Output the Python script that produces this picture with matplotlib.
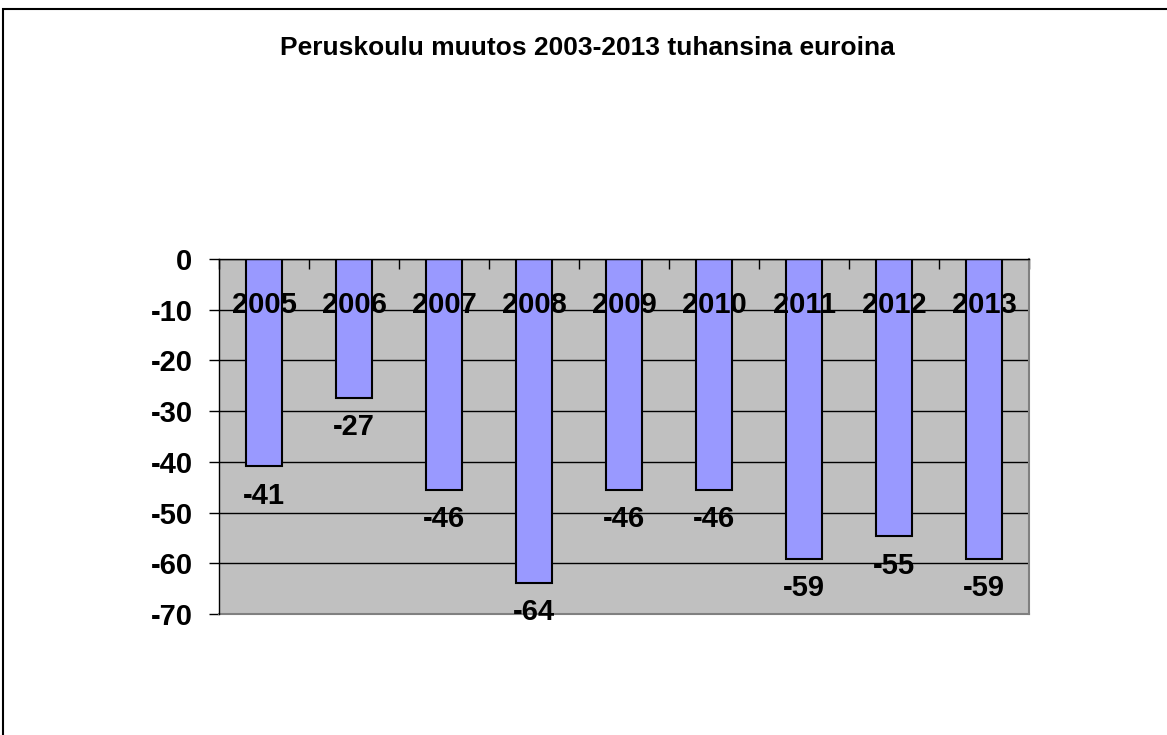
import matplotlib
matplotlib.use("Agg")
import matplotlib.pyplot as plt
from matplotlib.patches import Rectangle

plt.rcParams['font.family'] = ['Liberation Sans', 'DejaVu Sans']
plt.rcParams['font.weight'] = 'bold'

years = ['2005', '2006', '2007', '2008', '2009', '2010', '2011', '2012', '2013']
values = [-40.9, -27.4, -45.6, -63.8, -45.6, -45.6, -59.2, -54.7, -59.2]
yticks = [0, -10, -20, -30, -40, -50, -60, -70]
title = 'Peruskoulu muutos 2003-2013 tuhansina euroina'

fig = plt.figure(figsize=(11.67, 7.35), dpi=100)
fig.patch.set_facecolor('white')

# outer frame (only top and left edges show in the original)
fig.patches.append(Rectangle((3 / 1167, -0.1), 1.2, 1 - 9 / 735 + 0.1,
                             transform=fig.transFigure, fill=False,
                             edgecolor='black', linewidth=1.5))

ax = fig.add_axes([219 / 1167, 1 - 614 / 735, (1029 - 219) / 1167, (614 - 259) / 735])
ax.set_facecolor('#C0C0C0')

x = list(range(len(years)))
ax.bar(x, values, width=0.41, color='#9999FF', edgecolor='black', linewidth=1.5, zorder=3)

ax.set_xlim(-0.5, len(years) - 0.5)
ax.set_ylim(-70, 0)
ax.set_yticks(yticks)
ax.set_yticklabels([str(t) for t in yticks], fontsize=21, fontweight='bold')
ax.tick_params(axis='y', direction='out', length=7, width=1, pad=12, color='black')

ax.xaxis.tick_top()
ax.set_xticks([i - 0.5 for i in range(len(years) + 1)])
ax.set_xticklabels([])
ax.tick_params(axis='x', direction='in', length=7, width=1, color='black')

ax.grid(axis='y', color='black', linewidth=1, zorder=1)
ax.set_axisbelow(True)

for side in ['top', 'left']:
    ax.spines[side].set_color('black')
    ax.spines[side].set_linewidth(1)
    ax.spines[side].set_zorder(4)
for side in ['right', 'bottom']:
    ax.spines[side].set_color('#808080')
    ax.spines[side].set_linewidth(1.5)

for i, (yr, v) in enumerate(zip(years, values)):
    ax.text(i, -9.1, yr, ha='center', va='center', fontsize=21,
            fontweight='bold', zorder=5)
    ax.annotate(str(round(v)), (i, v), xytext=(0, -21), textcoords='offset points',
                ha='center', va='center', fontsize=21, fontweight='bold',
                annotation_clip=False, zorder=5)

fig.text(587 / 1167, 1 - 48 / 735, title, ha='center', va='center',
         fontsize=19, fontweight='bold')

fig.savefig('out.png', dpi=100)
